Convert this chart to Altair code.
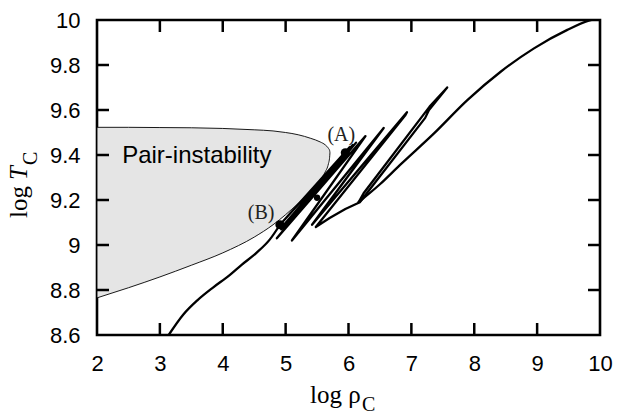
import altair as alt
import pandas as pd

# ---- axis tick values ----
x_ticks = [2, 3, 4, 5, 6, 7, 8, 9, 10]
y_ticks = [8.6, 8.8, 9.0, 9.2, 9.4, 9.6, 9.8, 10.0]

# ---- pair-instability region boundary (log rho_C, upper / lower log T_C) ----
bnd_rho = [2.0, 2.5, 3.0, 3.5, 4.0, 4.5, 4.8, 5.0, 5.2, 5.4, 5.55, 5.63, 5.68, 5.70, 5.705]
bnd_upper = [9.523, 9.523, 9.522, 9.521, 9.518, 9.512, 9.507, 9.500, 9.490, 9.474, 9.458, 9.445, 9.430, 9.420, 9.410]
bnd_lower = [8.765, 8.810, 8.858, 8.910, 8.965, 9.035, 9.090, 9.135, 9.185, 9.240, 9.290, 9.325, 9.360, 9.390, 9.410]

# ---- evolutionary track of the core ----
# approach to the instability region
pre_rho = [3.14, 3.37, 3.60, 3.85, 4.10, 4.30, 4.54, 4.75, 4.91]
pre_T = [8.60, 8.69, 8.755, 8.812, 8.864, 8.912, 8.966, 9.025, 9.09]
# pulsation loops
loop_rho = [4.91, 6.02, 4.96, 6.07, 4.93, 5.98, 5.02, 6.12, 4.86, 6.27, 5.10, 6.56,
            5.42, 6.93, 6.90, 5.48, 5.70, 5.95, 6.18,
            7.22, 7.28, 7.57, 7.29, 6.24, 6.16]
loop_T = [9.09, 9.435, 9.085, 9.445, 9.07, 9.405, 9.09, 9.455, 9.03, 9.484, 9.02, 9.52,
          9.09, 9.59, 9.575, 9.08, 9.12, 9.16, 9.19,
          9.565, 9.60, 9.70, 9.615, 9.23, 9.19]
# final collapse
post_rho = [6.16, 6.50, 6.82, 7.36, 7.89, 8.42, 8.95, 9.48, 9.82, 10.0]
post_T = [9.19, 9.27, 9.356, 9.496, 9.644, 9.77, 9.874, 9.956, 9.997, 10.01]

# ---- marked points ----
big_rho = [5.95, 4.91]
big_T = [9.41, 9.09]
small_rho = [5.50]
small_T = [9.21]

# ---- annotations ----
ann_text = ["(A)", "(B)"]
ann_rho = [5.885, 4.61]
ann_T = [9.489, 9.144]
region_text = ["Pair-instability"]
region_rho = [2.40]
region_T = [9.396]

x_title_main = "log ρ"
x_title_sub = "C"
y_title_log = "log"
y_title_T = "T"
y_title_sub = "C"

W, H = 503, 315

xs = alt.Scale(domain=[2, 10], nice=False, zero=False)
ys = alt.Scale(domain=[8.6, 10], nice=False, zero=False)
xa = alt.Axis(values=x_ticks, title=None, grid=False, domain=False, ticks=False,
              labelFont="Liberation Sans", labelFontSize=22, labelColor="black",
              labelPadding=18, labelFlush=False, labelOverlap=False)
ya = alt.Axis(values=y_ticks, title=None, grid=False, domain=False, ticks=False,
              labelFont="Liberation Sans", labelFontSize=22, labelColor="black",
              labelPadding=17, labelFlush=False, labelOverlap=False, format=".1~f")


def X(f):
    return alt.X(f, type="quantitative", scale=xs, axis=xa)


def Y(f):
    return alt.Y(f, type="quantitative", scale=ys, axis=ya)


bnd_df = pd.DataFrame({"rho": bnd_rho, "up": bnd_upper, "lo": bnd_lower})
pre_df = pd.DataFrame({"rho": pre_rho, "T": pre_T})
loop_df = pd.DataFrame({"rho": loop_rho, "T": loop_T, "i": list(range(len(loop_rho)))})
post_df = pd.DataFrame({"rho": post_rho, "T": post_T})
big_df = pd.DataFrame({"rho": big_rho, "T": big_T})
small_df = pd.DataFrame({"rho": small_rho, "T": small_T})
ann_df = pd.DataFrame({"rho": ann_rho, "T": ann_T, "t": ann_text})
reg_df = pd.DataFrame({"rho": region_rho, "T": region_T, "t": region_text})
xt_df = pd.DataFrame({"v": x_ticks[1:-1]})
yt_df = pd.DataFrame({"v": y_ticks[1:-1]})

area = alt.Chart(bnd_df).mark_area(
    fill="#e5e5e5", stroke="black", strokeWidth=0.9, interpolate="monotone", clip=True
).encode(x=X("rho"), y=Y("up"), y2="lo")

line_style = dict(color="black", strokeWidth=2.3, clip=True, strokeJoin="round", strokeCap="round")
pre = alt.Chart(pre_df).mark_line(interpolate="monotone", **line_style).encode(x=X("rho"), y=Y("T"))
loops = alt.Chart(loop_df).mark_line(**line_style).encode(x=X("rho"), y=Y("T"), order="i:Q")
post = alt.Chart(post_df).mark_line(interpolate="monotone", **line_style).encode(x=X("rho"), y=Y("T"))

big = alt.Chart(big_df).mark_circle(color="black", size=85, opacity=1).encode(x=X("rho"), y=Y("T"))
small = alt.Chart(small_df).mark_circle(color="black", size=40, opacity=1).encode(x=X("rho"), y=Y("T"))

ann = alt.Chart(ann_df).mark_text(
    font="Liberation Serif", fontSize=20, color="#222222", align="center", baseline="middle"
).encode(x=X("rho"), y=Y("T"), text="t:N")

reg = alt.Chart(reg_df).mark_text(
    font="Liberation Sans", fontSize=24, color="black", align="left", baseline="middle"
).encode(x=X("rho"), y=Y("T"), text="t:N")

tick_style = dict(color="black", strokeWidth=2.5)
xt_bot = alt.Chart(xt_df).mark_rule(**tick_style).encode(x=X("v"), y=alt.value(H), y2=alt.value(H - 12))
xt_top = alt.Chart(xt_df).mark_rule(**tick_style).encode(x=X("v"), y=alt.value(0), y2=alt.value(12))
yt_left = alt.Chart(yt_df).mark_rule(**tick_style).encode(y=Y("v"), x=alt.value(0), x2=alt.value(12))
yt_right = alt.Chart(yt_df).mark_rule(**tick_style).encode(y=Y("v"), x=alt.value(W), x2=alt.value(W - 12))

one = pd.DataFrame({"a": [0]})
serif = "Liberation Serif"
xt1 = alt.Chart(one).mark_text(font=serif, fontSize=25, align="left", baseline="alphabetic", color="black").encode(
    x=alt.value(213), y=alt.value(383), text=alt.value(x_title_main))
xt2 = alt.Chart(one).mark_text(font=serif, fontSize=20, align="left", baseline="alphabetic", color="black").encode(
    x=alt.value(265), y=alt.value(391), text=alt.value(x_title_sub))
yt1 = alt.Chart(one).mark_text(font=serif, fontSize=25, align="left", baseline="alphabetic", angle=270, color="black").encode(
    x=alt.value(-70), y=alt.value(198), text=alt.value(y_title_log))
yt2 = alt.Chart(one).mark_text(font=serif, fontSize=25, fontStyle="italic", align="left", baseline="alphabetic", angle=270, color="black").encode(
    x=alt.value(-70), y=alt.value(160), text=alt.value(y_title_T))
yt3 = alt.Chart(one).mark_text(font=serif, fontSize=20, align="left", baseline="alphabetic", angle=270, color="black").encode(
    x=alt.value(-60), y=alt.value(145), text=alt.value(y_title_sub))

chart = alt.layer(
    area, pre, loops, post, big, small, ann, reg,
    xt_bot, xt_top, yt_left, yt_right,
    xt1, xt2, yt1, yt2, yt3
).properties(
    width=W, height=H,
    autosize=alt.AutoSizeParams(type="none"),
    padding={"left": 97, "top": 20, "right": 25, "bottom": 80},
    background="white",
).configure_view(stroke="black", strokeWidth=2.6)

chart.save("out.html", embed_options={"renderer": "svg", "actions": False})
